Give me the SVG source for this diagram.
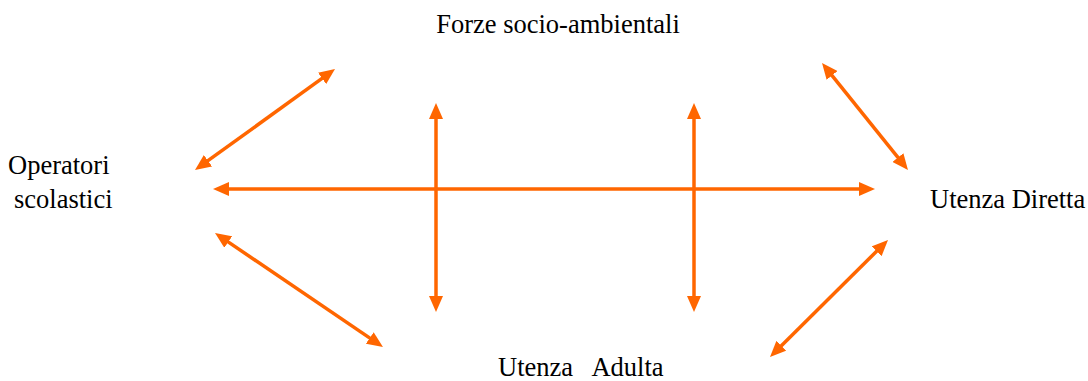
<svg xmlns="http://www.w3.org/2000/svg" width="1088" height="381" viewBox="0 0 1088 381">
<style>
.lbl{font-family:"Liberation Serif","Times New Roman",serif;font-size:26.5px;fill:#000}
.c{stroke:#FF6600;stroke-width:3.5;fill:none;marker-start:url(#ah);marker-end:url(#ah)}
</style>
<defs>
<marker id="ah" markerUnits="userSpaceOnUse" markerWidth="16" markerHeight="14" refX="6" refY="7" orient="auto-start-reverse">
<path d="M0,0 L16,7 L0,14 z" fill="#FF6600"/>
</marker>
</defs>
<rect width="1088" height="381" fill="#fff"/>
<g id="connectors">
<line class="c" x1="203.1" y1="164.2" x2="326.9" y2="74.9"/>
<line class="c" x1="436" y1="113" x2="436" y2="302"/>
<line class="c" x1="694" y1="113" x2="694" y2="302"/>
<line class="c" x1="223" y1="189" x2="865" y2="189"/>
<line class="c" x1="828.3" y1="70.8" x2="901.7" y2="162.2"/>
<line class="c" x1="223.3" y1="238.6" x2="374.7" y2="341.4"/>
<line class="c" x1="880.9" y1="247.0" x2="777.1" y2="350.0"/>
</g>
<g id="forze"><text class="lbl" x="558" y="33" text-anchor="middle">Forze socio-ambientali</text></g>
<g id="operatori"><text class="lbl" x="8" y="174">Operatori</text><text class="lbl" x="14" y="208">scolastici</text></g>
<g id="diretta"><text class="lbl" x="930" y="208">Utenza Diretta</text></g>
<g id="adulta"><text class="lbl" x="498" y="376" xml:space="preserve">Utenza   Adulta</text></g>
</svg>
